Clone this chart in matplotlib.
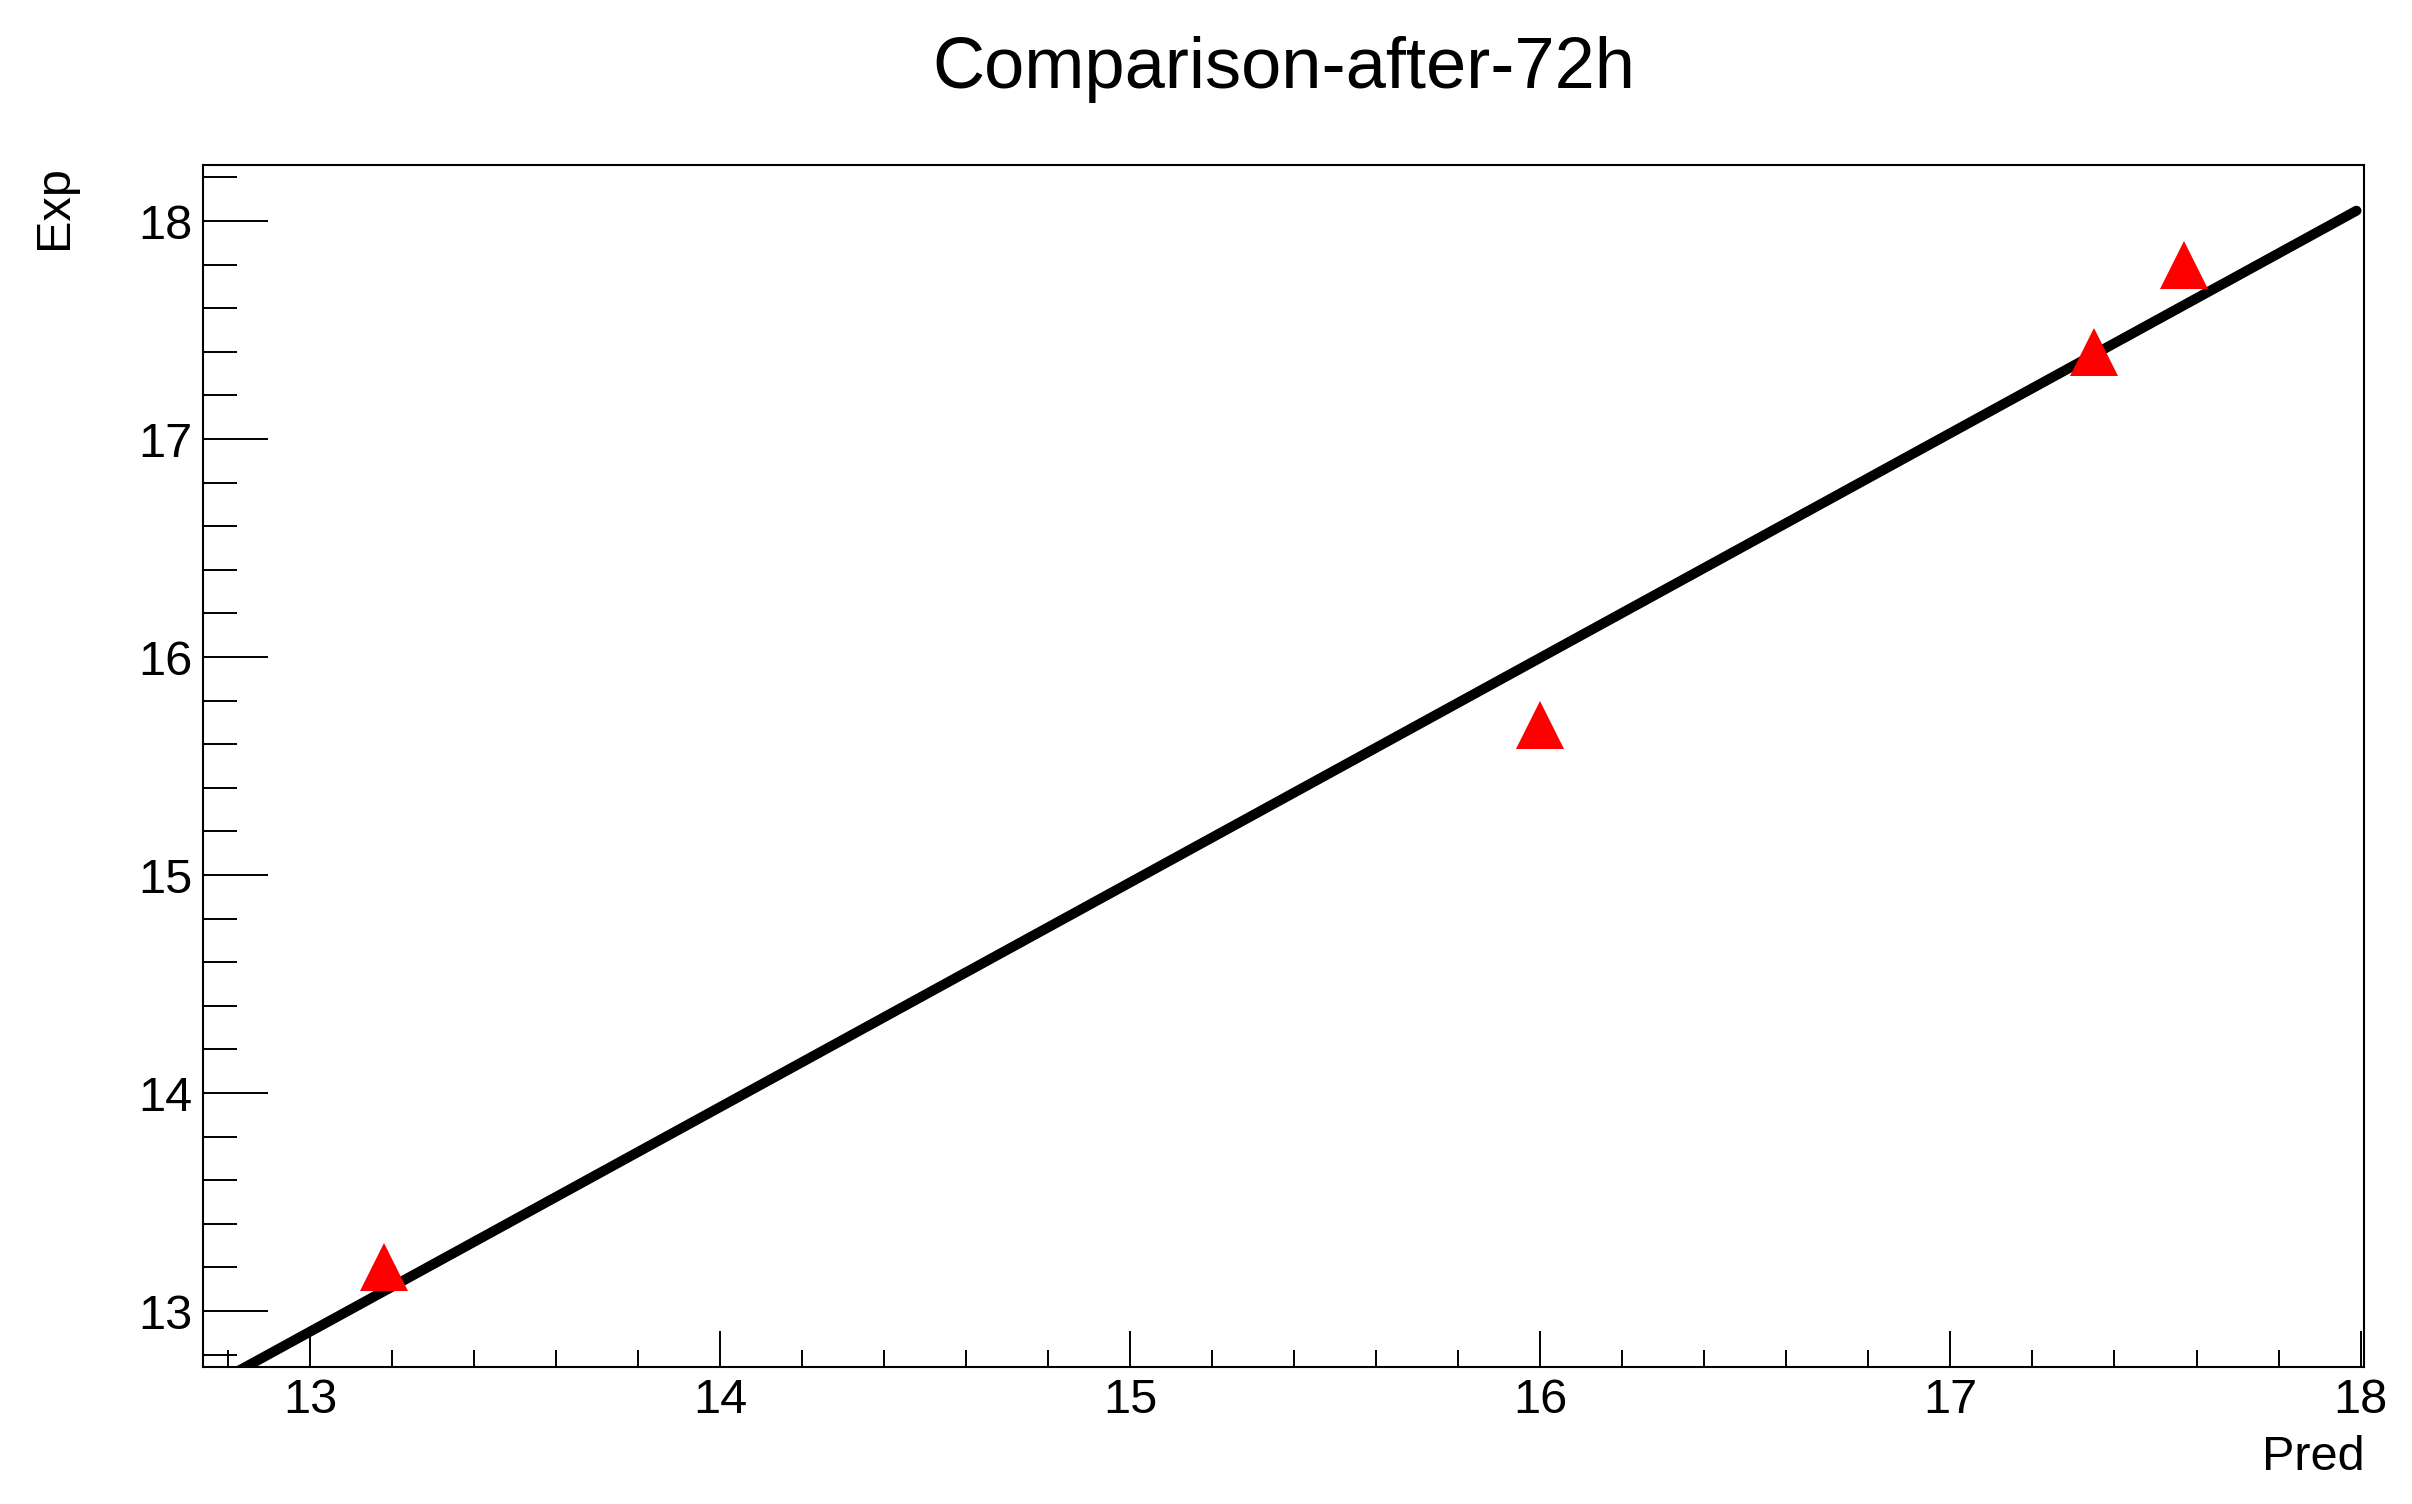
import numpy as np
import matplotlib
matplotlib.use('Agg')
import matplotlib.pyplot as plt
from matplotlib.ticker import MultipleLocator

plt.rcParams['font.family'] = ['Liberation Sans', 'DejaVu Sans']

# 数据点
pred = [13.18, 16.00, 17.35, 17.57]
exp = [13.20, 15.69, 17.40, 17.80]
title = 'Comparison-after-72h'

# 线性拟合范围
fit_xmin, fit_xmax = 12.74, 17.99

fig = plt.figure(figsize=(24.12, 15.04), dpi=100)
ax = fig.add_axes([0.0843, 0.0913, 0.8959, 0.7990])

# 拟合直线
k, b = np.polyfit(pred, exp, 1)
xs = np.array([fit_xmin, fit_xmax])
ax.plot(xs, k * xs + b, color='black', linewidth=7.2, solid_capstyle='round', zorder=2)

# 实验点
ax.plot(pred, exp, linestyle='none', marker='^', markersize=34, color='red',
        markeredgewidth=0, zorder=3)

ax.set_xlim(12.74, 18.009)
ax.set_ylim(12.745, 18.257)

ax.xaxis.set_major_locator(MultipleLocator(1))
ax.xaxis.set_minor_locator(MultipleLocator(0.2))
ax.yaxis.set_major_locator(MultipleLocator(1))
ax.yaxis.set_minor_locator(MultipleLocator(0.2))

ax.tick_params(axis='x', which='major', direction='in', length=26, width=1.4,
               labelsize=35, pad=8)
ax.tick_params(axis='x', which='minor', direction='in', length=12, width=1.4)
ax.tick_params(axis='y', which='major', direction='in', length=47, width=1.4,
               labelsize=35, pad=8)
ax.tick_params(axis='y', which='minor', direction='in', length=24.5, width=1.4)

for s in ax.spines.values():
    s.set_linewidth(1.5)

ax.set_xlabel('Pred', fontsize=35, loc='right')
ax.xaxis.label.set_va('baseline')
ax.xaxis.set_label_coords(1.0, -0.086)

ax.set_ylabel('Exp', fontsize=35, loc='top')
ax.yaxis.label.set_va('baseline')
ax.yaxis.set_label_coords(-0.0632, 1.0)

ax.set_title(title, fontsize=52, y=1.064, va='baseline', pad=0)

fig.savefig('out.png', dpi=100)
